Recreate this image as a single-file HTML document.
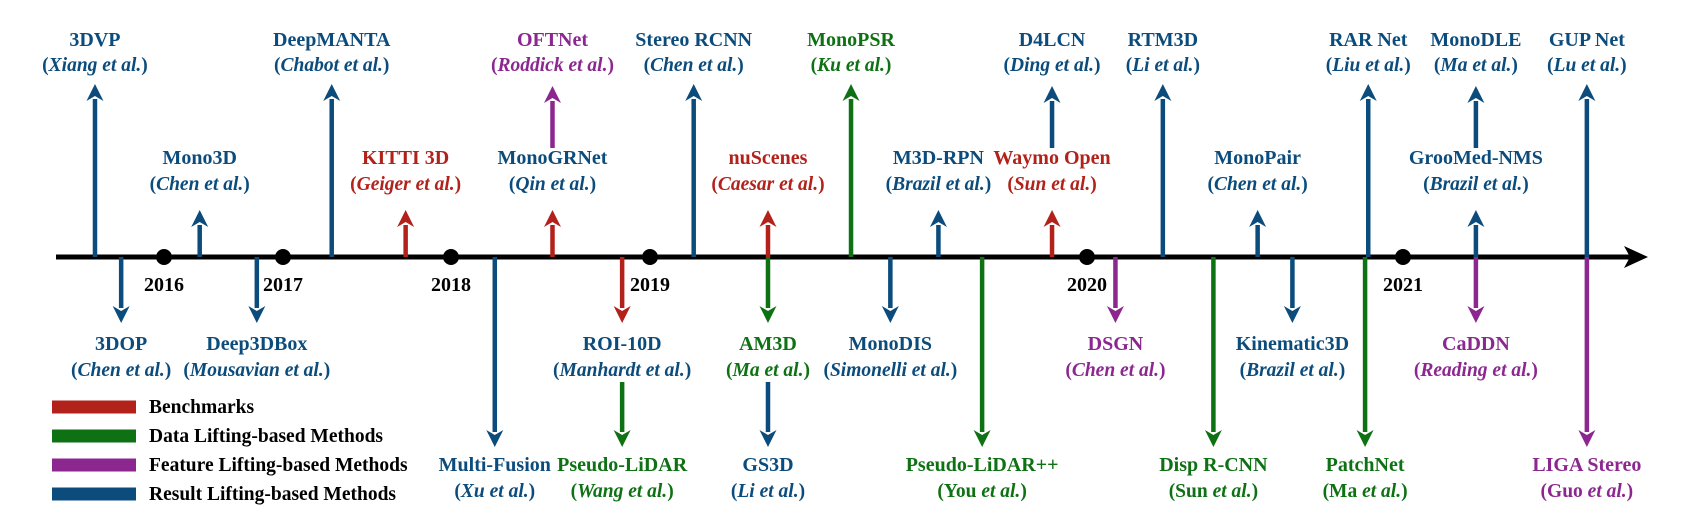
<!DOCTYPE html>
<html><head><meta charset="utf-8"><style>
html,body{margin:0;padding:0;background:#fff;}
svg{display:block;}
text{font-family:"Liberation Serif",serif;font-weight:bold;}
</style></head><body>
<svg id="chart" width="1687" height="531" viewBox="0 0 1687 531" xmlns="http://www.w3.org/2000/svg"></svg>
<script>
const years = [2016, 2017, 2018, 2019, 2020, 2021];
const yearAnchors = [2015, 2016, 2017, 2018, 2019, 2020, 2021, 2022];
const anchorPx = [45, 164, 283, 451, 650, 1087, 1403, 1720];
const names = ["3DVP","3DOP","Mono3D","Deep3DBox","DeepMANTA","KITTI 3D","Multi-Fusion","MonoGRNet","OFTNet","ROI-10D","Pseudo-LiDAR","Stereo RCNN","nuScenes","AM3D","GS3D","MonoPSR","MonoDIS","M3D-RPN","Pseudo-LiDAR++","Waymo Open","D4LCN","DSGN","RTM3D","Disp R-CNN","MonoPair","Kinematic3D","PatchNet","RAR Net","GrooMed-NMS","MonoDLE","CaDDN","GUP Net","LIGA Stereo"];
const authors = ["Xiang","Chen","Chen","Mousavian","Chabot","Geiger","Xu","Qin","Roddick","Manhardt","Wang","Chen","Caesar","Ma","Li","Ku","Simonelli","Brazil","You","Sun","Ding","Chen","Li","Sun","Chen","Brazil","Ma","Liu","Brazil","Ma","Reading","Lu","Guo"];
const dates = [2015.42,2015.64,2016.30,2016.78,2017.29,2017.73,2018.22,2018.51,2018.51,2018.86,2018.86,2019.10,2019.27,2019.27,2019.27,2019.46,2019.55,2019.66,2019.76,2019.92,2019.92,2020.09,2020.24,2020.40,2020.54,2020.65,2020.88,2020.89,2021.23,2021.23,2021.23,2021.58,2021.58];
// category: 0 benchmark, 1 data, 2 feature, 3 result (label colour)
const categories = [3,3,3,3,3,0,3,3,2,3,1,3,0,1,3,1,3,3,1,0,3,2,3,1,3,3,1,3,3,3,2,3,2];
// arrow colour category
const arrowCategories = [3,3,3,3,3,0,3,0,2,0,1,3,0,1,3,1,3,3,1,0,3,2,3,1,3,3,1,3,3,3,2,3,2];
// level: 'UL' up long, 'US' up short, 'UT' up stacked top, 'DS' down short, 'DL' down long, 'DB' down stacked bottom
const levels = ["UL","DS","US","DS","UL","US","DL","US","UT","DS","DB","UL","US","DS","DB","UL","DS","US","DL","US","UT","DS","UL","DL","US","DS","DL","UL","US","UT","DS","UL","DL"];
const mixedStyle = [0,0,0,0,0,0,0,0,0,0,0,0,0,0,0,0,0,0,1,0,0,0,0,1,0,0,1,0,0,0,0,0,1];
const legendLabels = ["Benchmarks","Data Lifting-based Methods","Feature Lifting-based Methods","Result Lifting-based Methods"];

const COLORS = ["#b3211b","#0e7113","#8c2790","#0b4c7c"];
const AXIS_Y = 257;
function xScale(t){
  for(let i=0;i<yearAnchors.length-1;i++){
    if(t<=yearAnchors[i+1]||i===yearAnchors.length-2){
      const f=(t-yearAnchors[i])/(yearAnchors[i+1]-yearAnchors[i]);
      return anchorPx[i]+f*(anchorPx[i+1]-anchorPx[i]);
    }
  }
}
const svg=document.getElementById('chart');
const NS="http://www.w3.org/2000/svg";
function mk(tag,attrs){const e=document.createElementNS(NS,tag);for(const k in attrs)e.setAttribute(k,attrs[k]);svg.appendChild(e);return e;}

const GEO={UL:[AXIS_Y,84,46,71],US:[AXIS_Y,210,164,190],UT:[148,86,46,71],DS:[AXIS_Y,323,350,376],DL:[AXIS_Y,447,471,497],DB:[382,447,471,497]};

function arrow(x,y1,y2,color,name){
  const dir=y2<y1?-1:1;
  const ah=17, aw=8.5;
  const ln=mk('line',{x1:x,y1:y1,x2:x,y2:y2-dir*ah+dir*2,stroke:color,'stroke-width':4.5});
  
  
  const p=mk('polygon',{points:`${x},${y2} ${x-aw},${y2-dir*ah} ${x},${y2-dir*(ah-5)} ${x+aw},${y2-dir*ah}`,fill:color});
  
  
}

const axis=mk('line',{x1:56,y1:AXIS_Y,x2:1635,y2:AXIS_Y,stroke:'#000','stroke-width':5});


const ah=mk('polygon',{points:`1648,${AXIS_Y} 1624,${AXIS_Y-11} 1630,${AXIS_Y} 1624,${AXIS_Y+11}`,fill:'#000'});



names.forEach((n,i)=>{
  const x=xScale(dates[i]);
  const g=GEO[levels[i]];
  const c=COLORS[categories[i]];
  const key=n.toLowerCase().replace(/[^a-z0-9]+/g,'-');
  arrow(x,g[0],g[1],COLORS[arrowCategories[i]],key);
  const t=mk('text',{x:x,y:g[2],'text-anchor':'middle','font-size':20,fill:c});
  t.textContent=n;
  
  
  const a=mk('text',{x:x,y:g[3],'text-anchor':'middle','font-size':19.5,fill:c});
  
  
  if(mixedStyle[i]){
    a.innerHTML='('+authors[i]+' <tspan font-style="italic">et al.</tspan>)';
  } else {
    a.innerHTML='(<tspan font-style="italic">'+authors[i]+' et al.</tspan>)';
  }
});

years.forEach(y=>{
  const x=xScale(y);
  const d=mk('circle',{cx:x,cy:AXIS_Y,r:8,fill:'#000'});
  
  
  const t=mk('text',{x:x,y:AXIS_Y+34,'text-anchor':'middle','font-size':20,fill:'#000'});
  t.textContent=y;
  
  
});

legendLabels.forEach((l,i)=>{
  const y=407+i*29;
  const r=mk('rect',{x:52,y:y-6.5,width:84,height:13,fill:COLORS[i]});
  
  
  const t=mk('text',{x:149,y:y+6,'font-size':19.5,fill:'#000'});
  t.textContent=l;
  
  
});
</script>
</body></html>
